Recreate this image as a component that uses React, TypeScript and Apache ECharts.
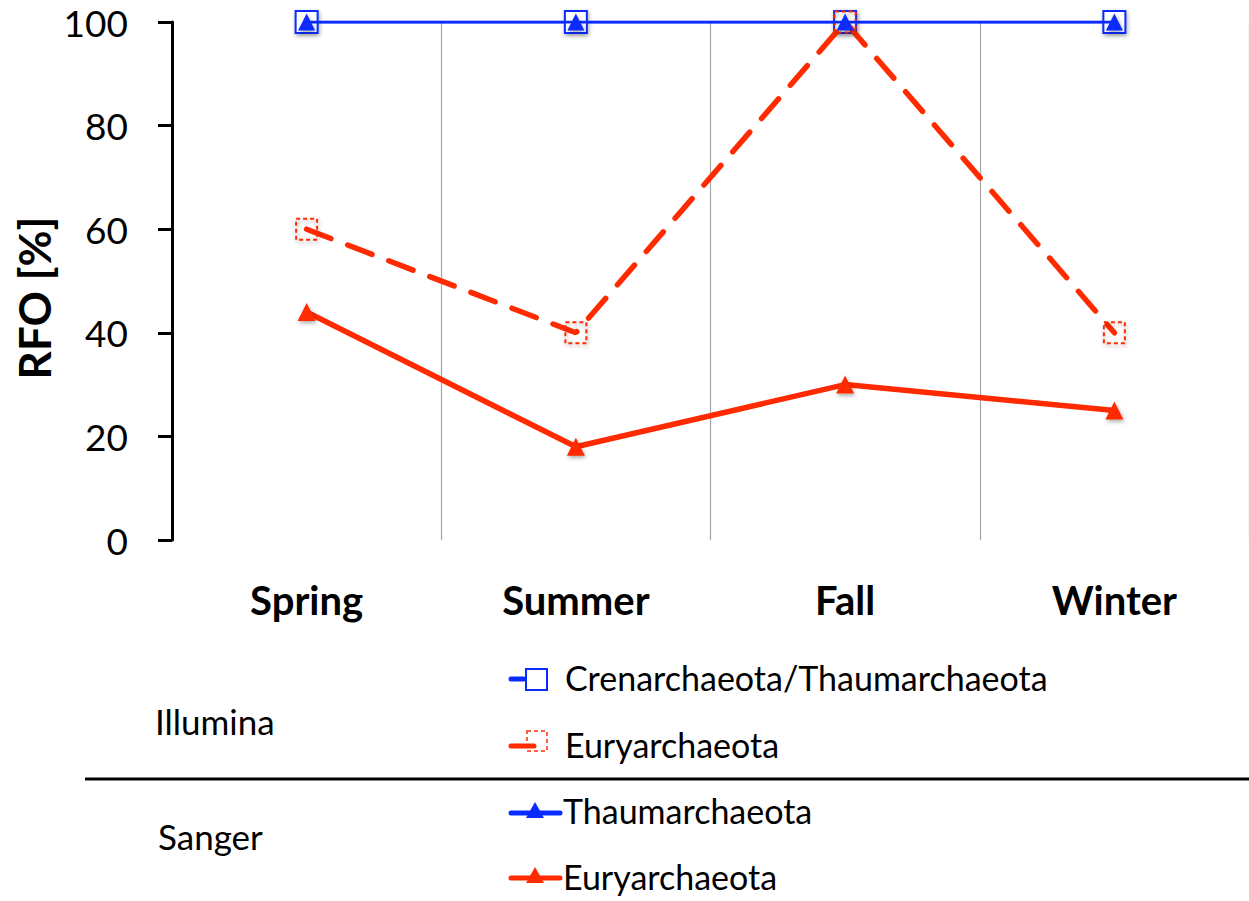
import React, { useEffect, useRef } from "react";
import * as echarts from "echarts";

const seasons = ["Spring", "Summer", "Fall", "Winter"];
const illuminaCrenThaum = [100, 100, 100, 100];
const illuminaEury = [60, 40, 100, 40];
const sangerThaum = [100, 100, 100, 100];
const sangerEury = [44, 18, 30, 25];
const yTicks = { min: 0, max: 100, interval: 20 };

const BLUE = "#0a2bff";
const RED = "#ff2a00";
const FONT = "Lato";

export default function App() {
  const ref = useRef<HTMLDivElement>(null);
  useEffect(() => {
    const chart = echarts.init(ref.current!, null, { renderer: "svg" });
    const shadow = { shadowColor: "rgba(0,0,0,0.35)", shadowBlur: 4, shadowOffsetX: 1, shadowOffsetY: 2 };
    const txt = (text: string, x: number, y: number, size: number) => ({
      type: "text",
      x,
      y,
      style: { text, fontFamily: FONT, fontSize: size, fill: "#000", verticalAlign: "middle", align: "left" },
    });
    chart.setOption({
      animation: false,
      backgroundColor: "#ffffff",
      grid: { left: 172, right: -3, top: 22, bottom: 361, containLabel: false },
      xAxis: {
        type: "category",
        data: seasons,
        boundaryGap: true,
        axisLine: { show: false },
        axisTick: { show: false },
        splitLine: { show: true, lineStyle: { color: "#a6a6a6", width: 1.2 } },
        axisLabel: { color: "#000", fontFamily: FONT, fontWeight: "bold", fontSize: 40, margin: 40 },
      },
      yAxis: {
        type: "value",
        min: yTicks.min,
        max: yTicks.max,
        interval: yTicks.interval,
        axisLine: { show: true, lineStyle: { color: "#000", width: 3 } },
        axisTick: { show: true, length: 14, lineStyle: { color: "#000", width: 3 } },
        splitLine: { show: false },
        axisLabel: { color: "#000", fontFamily: FONT, fontSize: 37, margin: 44 },
      },
      series: [
        {
          name: "Crenarchaeota/Thaumarchaeota",
          type: "line",
          data: illuminaCrenThaum,
          z: 2,
          symbol: "rect",
          symbolSize: 22,
          lineStyle: { color: BLUE, width: 2.5 },
          itemStyle: { color: "#ffffff", borderColor: BLUE, borderWidth: 2, ...shadow },
        },
        {
          name: "Euryarchaeota (Illumina)",
          type: "line",
          data: illuminaEury,
          z: 3,
          symbol: "rect",
          symbolSize: 21,
          lineStyle: { color: RED, width: 5.5, type: [26, 18], cap: "round" },
          itemStyle: { color: "transparent", borderColor: RED, borderWidth: 2, borderType: [4, 3], ...shadow },
        },
        {
          name: "Euryarchaeota (Sanger)",
          type: "line",
          data: sangerEury,
          z: 4,
          symbol: "triangle",
          symbolSize: 18,
          lineStyle: { color: RED, width: 5.5 },
          itemStyle: { color: RED, ...shadow },
        },
        {
          name: "Thaumarchaeota",
          type: "line",
          data: sangerThaum,
          z: 5,
          symbol: "triangle",
          symbolSize: 17,
          lineStyle: { color: BLUE, width: 3 },
          itemStyle: { color: BLUE, ...shadow },
        },
      ],
      graphic: [
        {
          type: "text",
          x: 34,
          y: 298,
          rotation: Math.PI / 2,
          style: { text: "RFO [%]", fontFamily: FONT, fontWeight: "bold", fontSize: 44, fill: "#000", align: "center", verticalAlign: "middle" },
        },
        txt("Illumina", 155, 721, 35),
        txt("Sanger", 158, 836, 35),
        { type: "line", shape: { x1: 85, y1: 779, x2: 1249, y2: 779 }, style: { stroke: "#000", lineWidth: 3 } },
        // row 1
        { type: "line", shape: { x1: 511, y1: 679, x2: 524, y2: 679 }, style: { stroke: BLUE, lineWidth: 5, lineCap: "round" } },
        { type: "rect", shape: { x: 526, y: 669, width: 21, height: 21 }, style: { fill: "#fff", stroke: BLUE, lineWidth: 2 } },
        txt("Crenarchaeota/Thaumarchaeota", 565, 677, 34),
        // row 2
        { type: "line", shape: { x1: 511, y1: 746, x2: 534, y2: 746 }, style: { stroke: RED, lineWidth: 5, lineCap: "round" } },
        { type: "rect", shape: { x: 527, y: 731, width: 20, height: 20 }, style: { fill: "transparent", stroke: RED, lineWidth: 1.5, lineDash: [4, 3] } },
        txt("Euryarchaeota", 565, 744, 34),
        // row 3
        { type: "line", shape: { x1: 511, y1: 813, x2: 560, y2: 813 }, style: { stroke: BLUE, lineWidth: 5, lineCap: "round" } },
        { type: "polygon", shape: { points: [[535, 802], [544, 818], [526, 818]] }, style: { fill: BLUE } },
        txt("Thaumarchaeota", 563, 810, 34),
        // row 4
        { type: "line", shape: { x1: 511, y1: 878, x2: 560, y2: 878 }, style: { stroke: RED, lineWidth: 5, lineCap: "round" } },
        { type: "polygon", shape: { points: [[535, 867], [544, 883], [526, 883]] }, style: { fill: RED } },
        txt("Euryarchaeota", 563, 876, 34),
      ],
    });
    return () => chart.dispose();
  }, []);
  return <div ref={ref} style={{ position: "absolute", left: 0, top: 0, width: 1249, height: 901 }} />;
}
